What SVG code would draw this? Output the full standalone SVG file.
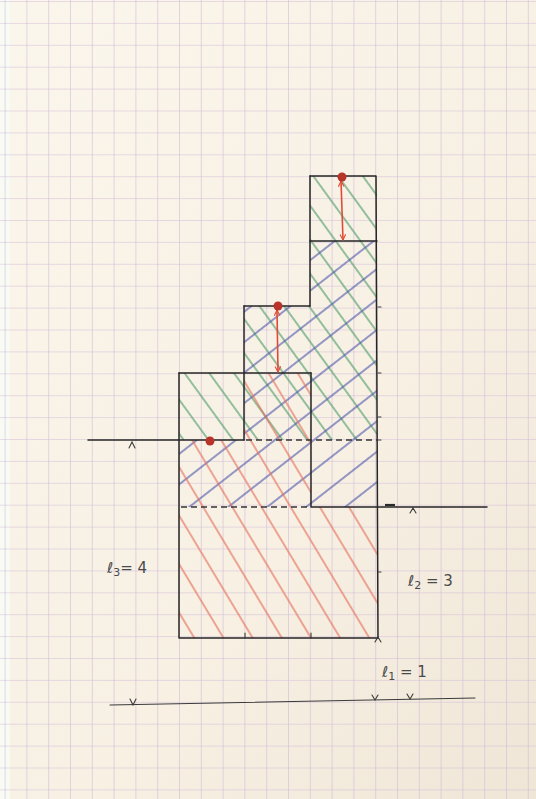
<svg xmlns="http://www.w3.org/2000/svg" width="536" height="799" viewBox="0 0 536 799">
<defs>
<linearGradient id="paper" x1="0" y1="0" x2="1" y2="1">
<stop offset="0" stop-color="#fbf6ec"/>
<stop offset="0.6" stop-color="#f7f0e3"/>
<stop offset="1" stop-color="#efe6d6"/>
</linearGradient>
<pattern id="grid" patternUnits="userSpaceOnUse" x="4.6" y="1" width="21.8" height="21.9">
<path d="M0 0 H21.8 M0 0 V21.9" fill="none" stroke="#d2bcd9" stroke-width="1.2"/>
</pattern>
<pattern id="hGreen" patternUnits="userSpaceOnUse" width="20" height="20" patternTransform="rotate(54)">
<line x1="0" y1="10" x2="20" y2="10" stroke="#4f9c68" stroke-width="1.2"/>
</pattern>
<pattern id="hRed" patternUnits="userSpaceOnUse" width="25" height="25" patternTransform="rotate(59)">
<line x1="0" y1="12" x2="25" y2="12" stroke="#e6705b" stroke-width="1.2"/>
</pattern>
<pattern id="hBlue" patternUnits="userSpaceOnUse" width="24" height="24" patternTransform="rotate(-38)">
<line x1="0" y1="12" x2="24" y2="12" stroke="#5058ac" stroke-width="1.2"/>
</pattern>
<marker id="ah" viewBox="0 0 10 10" refX="9" refY="5" markerWidth="7" markerHeight="7" orient="auto-start-reverse" markerUnits="userSpaceOnUse">
<path d="M1 1 L9 5 L1 9" fill="none" stroke="#e14b36" stroke-width="1.6"/>
</marker>
<style>
.ink{fill:none;stroke:#262626;stroke-width:1.5;stroke-linecap:round;stroke-linejoin:round}
.thin{fill:none;stroke:#3a3a3a;stroke-width:1.1;stroke-linecap:round}
.dash{fill:none;stroke:#333;stroke-width:1.3;stroke-dasharray:6 4}
.arrow{fill:none;stroke:#e14b36;stroke-width:1.6}
.dot{fill:#b8332a}
.lbl{font-family:"DejaVu Sans",sans-serif;font-size:15px;fill:#4a4a4a}
</style>
</defs>
<rect width="536" height="799" fill="url(#paper)"/>
<rect x="0" y="0" width="10" height="799" fill="#f8fbf3"/>
<rect width="536" height="799" fill="url(#grid)"/>

<g id="hatching">
<polygon points="179,373 244,373 244,306 310,306 310,176 377,176 377,440 179,440" fill="url(#hGreen)"/>
<polygon points="244,306 310,306 310,241 377,241 377,507 179,507 179,440 244,440" fill="url(#hBlue)"/>
<polygon points="244,373 311,373 311,507 378,507 378,638 179,638 179,440 244,440" fill="url(#hRed)"/>
</g>

<g id="outline">
<path class="ink" d="M310,176 H376 L378,638"/>
<path class="ink" d="M310,176 V306"/>
<path class="ink" d="M310,241 H377"/>
<path class="ink" d="M244,306 H310"/>
<path class="ink" d="M244,306 V440"/>
<path class="ink" d="M179,373 H311"/>
<path class="ink" d="M179,373 V638 H378"/>
<path class="ink" d="M311,373 V507 H487"/>
<path class="ink" d="M88,440 H244"/>
<path class="dash" d="M246,440 H378"/>
<path class="dash" d="M181,507 H310"/>
<path class="thin" d="M110,705 L475,698"/>
</g>

<g id="ticks">
<path class="thin" d="M245,638 V633 M311,638 V633"/>
<path class="thin" d="M378,307 h3 M378,373 h3 M378,417 h3 M378,440 h3 M378,572 h3"/>
<path class="thin" d="M375,642 L378,637 L381,642"/>
<path class="thin" d="M129,448 L132,442 L135,448"/>
<path class="thin" d="M410,513 L413,508 L416,513"/>
<path class="thin" d="M130,699 L133,705 L136,699"/>
<path class="thin" d="M372,695 L375,700 L378,695"/>
<path class="thin" d="M407,694 L410,699 L413,694"/>
<path d="M385,505 H395" stroke="#2b2b2b" stroke-width="2.2"/>
</g>

<g id="arrows">
<path class="arrow" d="M341,181 L343,240" marker-start="url(#ah)" marker-end="url(#ah)"/>
<path class="arrow" d="M277,310 L278,372" marker-start="url(#ah)" marker-end="url(#ah)"/>
</g>

<g id="dots">
<circle class="dot" cx="342" cy="177" r="4.5"/>
<circle class="dot" cx="278" cy="306" r="4.5"/>
<circle class="dot" cx="210" cy="441" r="4.5"/>
</g>

<g id="labels">
<text class="lbl" x="107" y="573">ℓ<tspan font-size="11" dy="3">3</tspan><tspan dy="-3">= 4</tspan></text>
<text class="lbl" x="408" y="586">ℓ<tspan font-size="11" dy="3">2</tspan><tspan dy="-3"> = 3</tspan></text>
<text class="lbl" x="382" y="677">ℓ<tspan font-size="11" dy="3">1</tspan><tspan dy="-3"> =  1</tspan></text>
</g>
</svg>
